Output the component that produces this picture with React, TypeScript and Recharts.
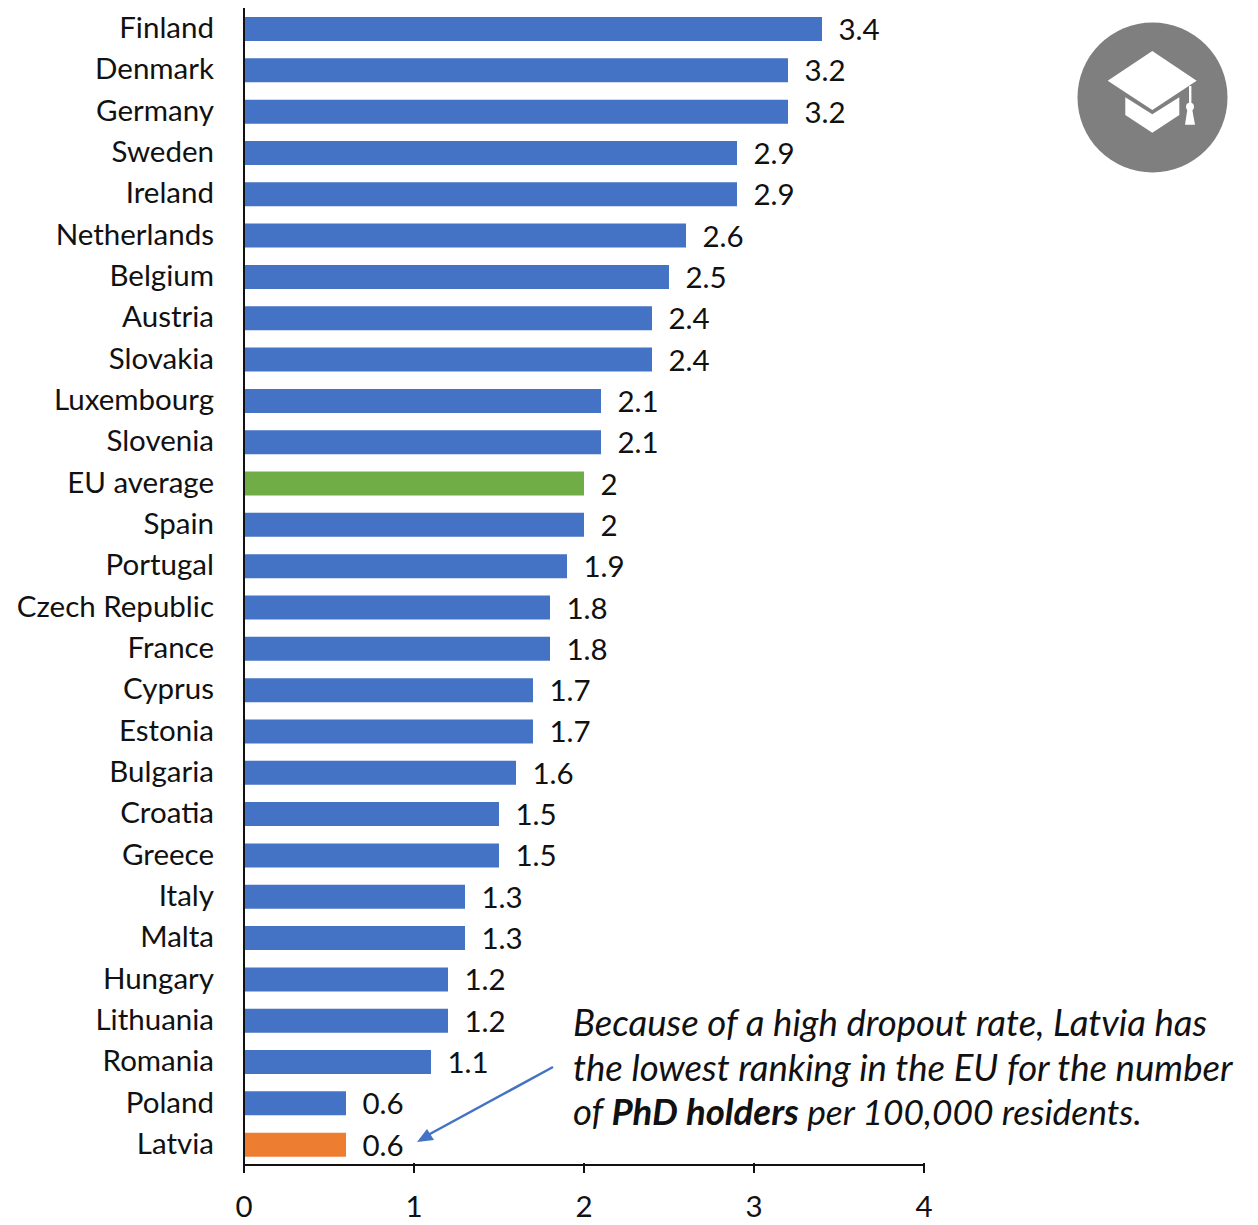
import React from "react";
import { BarChart, Bar, XAxis, YAxis, Cell, LabelList } from "recharts";

const countries = ["Finland","Denmark","Germany","Sweden","Ireland","Netherlands","Belgium","Austria","Slovakia","Luxembourg","Slovenia","EU average","Spain","Portugal","Czech Republic","France","Cyprus","Estonia","Bulgaria","Croatia","Greece","Italy","Malta","Hungary","Lithuania","Romania","Poland","Latvia"];
const values = [3.4,3.2,3.2,2.9,2.9,2.6,2.5,2.4,2.4,2.1,2.1,2,2,1.9,1.8,1.8,1.7,1.7,1.6,1.5,1.5,1.3,1.3,1.2,1.2,1.1,0.6,0.6];
const xTicks = [0,1,2,3,4];
const noteLines = ["Because of a high dropout rate, Latvia has","the lowest ranking in the EU for the number"];

const BLUE = "#4472C4";
const GREEN = "#70AD47";
const ORANGE = "#ED7D31";
const FONT = "Lato, 'Open Sans', sans-serif";
const FS = 29.5;
const TEXT = "#111111";

const data = countries.map((name, i) => ({ name, value: values[i] }));
const colorFor = (n: string) => (n === "EU average" ? GREEN : n === "Latvia" ? ORANGE : BLUE);

const XTick = (p: any) => (
  <g>
    <line x1={p.x} x2={p.x} y1={p.y} y2={p.y - 10} stroke="#111" strokeWidth={2} />
    <text x={p.x} y={p.y + 44} textAnchor="middle" fontSize={FS} fontFamily={FONT} fill={TEXT}>{p.payload.value}</text>
  </g>
);
const YTick = (p: any) => (
  <text x={214} y={p.y + 9.5} textAnchor="end" fontSize={FS} fontFamily={FONT} fill={TEXT}>{p.payload.value}</text>
);
const ValueLabel = (p: any) => (
  <text x={p.x + p.width + 16.5} y={p.y + p.height / 2 + 11} fontSize={FS} fontFamily={FONT} fill={TEXT}>{p.value}</text>
);

export default function App() {
  return (
    <div style={{ position: "absolute", left: 0, top: 0, width: 1258, height: 1225, background: "#fff", overflow: "hidden" }}>
      <BarChart width={1258} height={1225} layout="vertical" data={data} barCategoryGap={0}
        margin={{ top: 8, right: 334, bottom: 0, left: 0 }}>
        <XAxis type="number" domain={[0, 4]} ticks={xTicks} height={60} tickLine={false} tick={XTick} interval={0}
          axisLine={{ stroke: "#111", strokeWidth: 2 }} />
        <YAxis type="category" dataKey="name" width={244} tickLine={false} tick={YTick} interval={0}
          axisLine={{ stroke: "#111", strokeWidth: 2 }} />
        <Bar dataKey="value" barSize={24} isAnimationActive={false}>
          {data.map((d) => <Cell key={d.name} fill={colorFor(d.name)} />)}
          <LabelList dataKey="value" content={ValueLabel} />
        </Bar>
      </BarChart>
      <svg width={1258} height={1225} style={{ position: "absolute", left: 0, top: 0, pointerEvents: "none" }}>
        <circle cx={1152.5} cy={97.5} r={75} fill="#7F7F7F" />
        <g fill="#fff">
          <polygon points="1152.3,51 1196.7,80.7 1152.3,110 1107.7,80.7" />
          <polygon points="1125.3,97.3 1152.3,114.3 1179.3,97.3 1179.3,115 1152.3,132.7 1125.3,115" />
          <rect x={1189} y={86} width={2.4} height={18} />
          <circle cx={1190} cy={106.7} r={4} />
          <polygon points="1187.3,110 1192.3,110 1195,124.7 1185,124.7" />
        </g>
        <line x1={553} y1={1067} x2={428} y2={1135} stroke={BLUE} strokeWidth={2.5} />
        <polygon points="417,1142 427,1129 434,1140" fill={BLUE} />
        <g fontFamily={FONT} fontSize={36.6} fontStyle="italic" fill={TEXT}>
          <text x={573} y={1036}>{noteLines[0]}</text>
          <text x={573} y={1081}>{noteLines[1]}</text>
          <text x={573} y={1125}>of <tspan fontWeight="bold">PhD holders</tspan><tspan fontSize={35.4}> per 100,000 residents.</tspan></text>
        </g>
      </svg>
    </div>
  );
}
